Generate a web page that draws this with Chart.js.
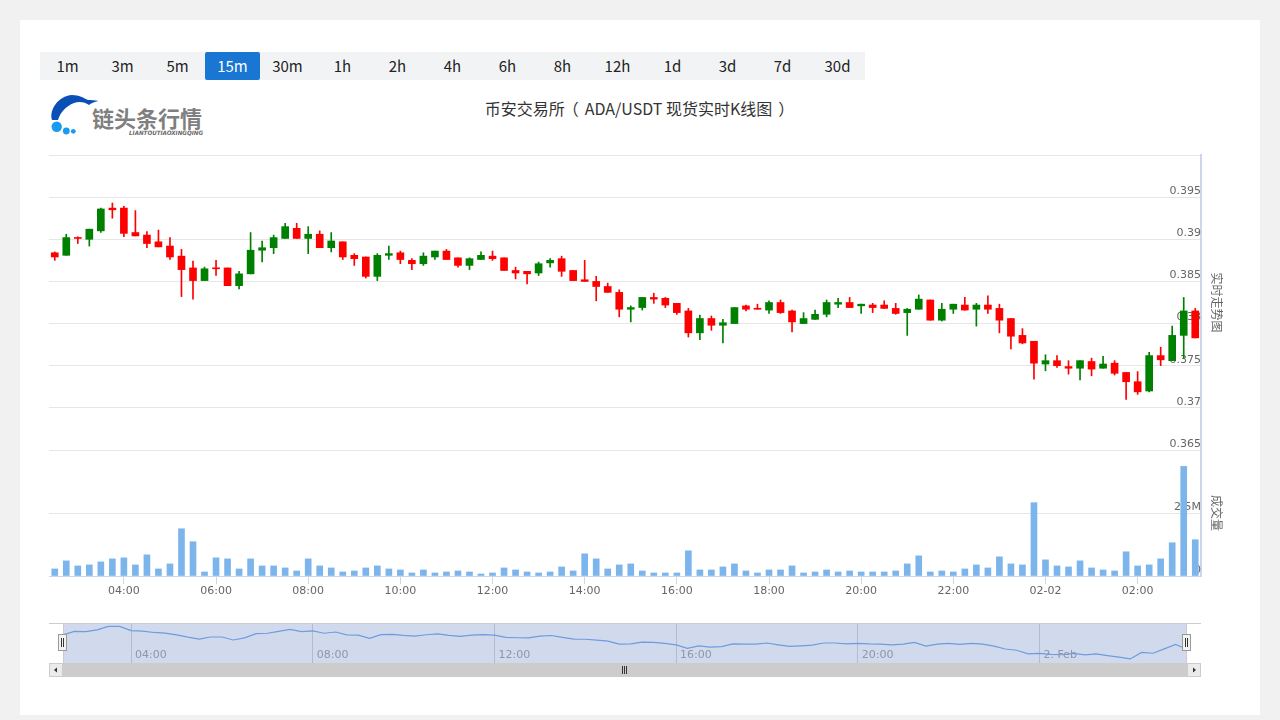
<!DOCTYPE html>
<html>
<head>
<meta charset="utf-8">
<script src="https://cdn.jsdelivr.net/npm/chart.js@4.4.0/dist/chart.umd.min.js"></script>
<style>
html,body{margin:0;padding:0;}
body{width:1280px;height:720px;background:#f1f1f1;position:relative;overflow:hidden;font-family:"Noto Sans CJK SC","Noto Sans",sans-serif;}
#card{position:absolute;left:20px;top:20px;width:1240px;height:695px;background:#fff;}
#periods{position:absolute;left:40px;top:52px;width:825px;height:28px;background:#f2f3f5;display:flex;}
#periods div{width:55px;height:28px;line-height:28px;text-align:center;font-size:15px;color:#222;}
#periods div.active{background:#1976d2;color:#fff;border-radius:2px;}
#title{position:absolute;left:0;width:1277px;top:95px;text-align:center;font-size:16px;color:#333;line-height:26px;}
#title .po{margin-left:-2px;margin-right:6px;}
#title .pcl{margin-left:6px;margin-right:-2px;}
#logo{position:absolute;left:48px;top:92px;}
#mainWrap{position:absolute;left:40px;top:145px;width:1200px;height:460px;}
#navWrap{position:absolute;left:49px;top:623px;width:1152px;height:40px;}
.sb{position:absolute;}
</style>
</head>
<body>
<div id="card"></div>
<div id="periods"></div>
<svg id="logo" width="160" height="48" viewBox="0 0 160 48">
  <path d="M 4 28 C 1 18, 10 4, 24 3 C 31 3, 36 6, 40 8 C 43 8, 47 8, 50.5 9 C 46 10, 43 11, 41 13 C 37 10, 31 9, 26 11 C 18 14, 12 21, 10 28 Z" fill="#0a4fb5"/>
  <circle cx="8.7" cy="34.7" r="5.2" fill="#1a9bf0"/>
  <circle cx="18.3" cy="39" r="3.4" fill="#1a9bf0"/>
  <circle cx="25.3" cy="39.3" r="2.4" fill="#1a9bf0"/>
  <text x="44" y="35" font-size="22" font-weight="bold" fill="#7f7f7f" font-family="Noto Sans CJK SC">链头条行情</text>
  <text x="81" y="42.5" font-size="6" font-weight="bold" font-style="italic" fill="#6a6a6a" font-family="DejaVu Sans" textLength="74" lengthAdjust="spacingAndGlyphs">LIANTOUTIAOXINGQING</text>
</svg>
<div id="title">币安交易所<span class="po">（</span>ADA/USDT 现货实时K线图<span class="pcl">）</span></div>
<div id="mainWrap"><canvas id="main"></canvas></div>
<div id="navWrap"><canvas id="nav"></canvas></div>

<!-- handles -->
<svg class="sb" style="left:58px;top:634px" width="10" height="18" viewBox="0 0 10 18">
  <rect x="0.5" y="0.5" width="8" height="16" fill="#f2f2f2" stroke="#999"/>
  <line x1="3.5" y1="4" x2="3.5" y2="13" stroke="#333"/>
  <line x1="5.5" y1="4" x2="5.5" y2="13" stroke="#333"/>
</svg>
<svg class="sb" style="left:1182px;top:634px" width="10" height="18" viewBox="0 0 10 18">
  <rect x="0.5" y="0.5" width="8" height="16" fill="#f2f2f2" stroke="#999"/>
  <line x1="3.5" y1="4" x2="3.5" y2="13" stroke="#333"/>
  <line x1="5.5" y1="4" x2="5.5" y2="13" stroke="#333"/>
</svg>
<!-- scrollbar -->
<div class="sb" style="left:49px;top:663px;width:1152px;height:14px;background:#f2f2f2;"></div>
<div class="sb" style="left:63px;top:663px;width:1124px;height:14px;background:#cccccc;"></div>
<svg class="sb" style="left:49px;top:663px" width="14" height="14" viewBox="0 0 14 14">
  <rect x="0.5" y="0.5" width="13" height="13" fill="#ebebeb" stroke="#cccccc"/>
  <path d="M 8 4.5 L 5 7 L 8 9.5 Z" fill="#333"/>
</svg>
<svg class="sb" style="left:1187px;top:663px" width="14" height="14" viewBox="0 0 14 14">
  <rect x="0.5" y="0.5" width="13" height="13" fill="#ebebeb" stroke="#cccccc"/>
  <path d="M 6 4.5 L 9 7 L 6 9.5 Z" fill="#333"/>
</svg>
<svg class="sb" style="left:620px;top:666px" width="10" height="8" viewBox="0 0 10 8">
  <line x1="2.5" y1="0" x2="2.5" y2="8" stroke="#333"/>
  <line x1="4.5" y1="0" x2="4.5" y2="8" stroke="#333"/>
  <line x1="6.5" y1="0" x2="6.5" y2="8" stroke="#333"/>
</svg>

<script>
// ---------- data ----------
const periods = ['1m','3m','5m','15m','30m','1h','2h','4h','6h','8h','12h','1d','3d','7d','30d'];
const activePeriod = '15m';

const opens = [.3884,.3881,.3902,.3900,.3910,.3937,.3937,.3908,.3905,.3897,
 .3892,.3880,.3866,.3851,.3866,.3866,.3845,.3859,.3887,.3890,
 .3901,.3913,.3901,.3906,.3890,.3897,.3881,.3879,.3856,.3881,
 .3884,.3875,.3871,.3879,.3886,.3878,.3869,.3876,.3880,.3878,
 .3863,.3862,.3860,.3872,.3877,.3863,.3852,.3850,.3844,.3837,
 .3817,.3819,.3831,.3830,.3824,.3815,.3789,.3806,.3798,.3800,
 .3821,.3818,.3816,.3825,.3815,.3800,.3805,.3811,.3823,.3825,
 .3821,.3822,.3822,.3818,.3813,.3817,.3828,.3804,.3817,.3822,
 .3817,.3822,.3818,.3806,.3786,.3779,.3752,.3756,.3749,.3747,
 .3755,.3747,.3753,.3742,.3731,.3720,.3762,.3756,.3786,.3815];

const highs = [.3885,.3906,.3903,.3912,.3937,.3943,.3939,.3934,.3909,.3911,
 .3902,.3888,.3874,.3867,.3875,.3866,.3862,.3908,.3898,.3905,
 .3919,.3919,.3915,.3910,.3908,.3897,.3883,.3879,.3883,.3892,
 .3886,.3877,.3884,.3886,.3888,.3878,.3878,.3885,.3886,.3878,
 .3867,.3862,.3873,.3877,.3880,.3863,.3875,.3856,.3848,.3840,
 .3821,.3831,.3836,.3831,.3824,.3818,.3810,.3809,.3805,.3819,
 .3822,.3823,.3827,.3828,.3816,.3813,.3816,.3828,.3830,.3831,
 .3823,.3824,.3827,.3824,.3818,.3834,.3828,.3824,.3823,.3831,
 .3824,.3833,.3823,.3806,.3794,.3779,.3763,.3762,.3756,.3756,
 .3759,.3761,.3756,.3742,.3743,.3766,.3772,.3797,.3831,.3818];

const lows = [.3875,.3881,.3895,.3892,.3908,.3925,.3903,.3904,.3890,.3891,
 .3876,.3832,.3829,.3851,.3857,.3845,.3841,.3859,.3873,.3883,
 .3901,.3901,.3883,.3890,.3885,.3876,.3869,.3854,.3851,.3876,
 .3871,.3864,.3869,.3876,.3876,.3867,.3864,.3876,.3875,.3863,
 .3853,.3847,.3857,.3867,.3856,.3851,.3850,.3827,.3837,.3808,
 .3802,.3816,.3824,.3819,.3811,.3784,.3781,.3792,.3777,.3800,
 .3815,.3817,.3812,.3812,.3790,.3800,.3805,.3808,.3819,.3819,
 .3812,.3813,.3818,.3811,.3786,.3817,.3804,.3803,.3812,.3816,
 .3797,.3812,.3789,.3770,.3776,.3734,.3744,.3748,.3740,.3733,
 .3738,.3747,.3739,.3710,.3716,.3719,.3750,.3756,.3759,.3783];

const closes = [.3879,.3902,.3901,.3912,.3936,.3935,.3907,.3904,.3895,.3891,
 .3879,.3864,.3851,.3865,.3865,.3845,.3859,.3887,.3890,.3902,
 .3915,.3901,.3906,.3890,.3898,.3879,.3877,.3856,.3881,.3883,
 .3876,.3871,.3880,.3886,.3876,.3869,.3877,.3881,.3877,.3863,
 .3860,.3859,.3871,.3875,.3862,.3851,.3850,.3844,.3837,.3817,
 .3819,.3831,.3829,.3822,.3813,.3789,.3806,.3798,.3801,.3819,
 .3817,.3817,.3825,.3813,.3802,.3806,.3811,.3825,.3825,.3819,
 .3823,.3819,.3818,.3812,.3817,.3829,.3804,.3817,.3823,.3816,
 .3822,.3817,.3804,.3785,.3777,.3753,.3756,.3750,.3747,.3756,
 .3746,.3752,.3741,.3731,.3719,.3762,.3757,.3786,.3815,.3783];

// volume in millions
const volumes = [.28,.60,.40,.44,.56,.68,.72,.44,.84,.28,
 .48,1.875,1.36,.16,.72,.68,.28,.68,.40,.40,
 .32,.20,.68,.40,.32,.16,.20,.32,.40,.28,
 .24,.12,.24,.12,.16,.20,.16,.08,.12,.32,
 .24,.16,.12,.16,.36,.20,.88,.68,.28,.44,
 .48,.20,.12,.12,.12,1.0,.24,.24,.36,.48,
 .20,.12,.24,.24,.40,.12,.16,.24,.16,.20,
 .16,.16,.16,.20,.48,.80,.16,.20,.16,.28,
 .44,.32,.76,.48,.44,2.91,.64,.40,.36,.60,
 .32,.24,.20,.96,.40,.44,.68,1.32,4.35,1.44];

const priceTicks = [0.365,0.37,0.375,0.38,0.385,0.39,0.395,0.4];
const volumeTicks = [0,2.5,5];
const priceTitle = '实时走势图';
const volumeTitle = '成交量';
const navTitleDay = '2. Feb';

// 15-minute categories, 02-01 02:30 ... 02-02 03:15
const categories = [];
(function(){
  const pad = n => (n < 10 ? '0' : '') + n;
  let day = 1, mins = 2*60 + 30;
  for (let i = 0; i < opens.length; i++) {
    categories.push('02-' + pad(day) + ' ' + pad(Math.floor(mins/60)) + ':' + pad(mins % 60));
    mins += 15;
    if (mins >= 1440) { mins -= 1440; day++; }
  }
})();

// ---------- header ----------
const pEl = document.getElementById('periods');
periods.forEach(p => {
  const d = document.createElement('div');
  d.textContent = p;
  if (p === activePeriod) d.className = 'active';
  pEl.appendChild(d);
});

// ---------- main chart ----------
const UP = '#008000', DOWN = '#ff0000';
const colors = opens.map((o, i) => closes[i] >= o ? UP : DOWN);
const tickFont = {family: 'DejaVu Sans', size: 11};

const splitCat = c => c.split(' ');
const fmtPrice = v => Math.abs(v - 0.4) < 1e-9 ? '' : String(parseFloat(v.toFixed(3)));

new Chart(document.getElementById('main'), {
  type: 'bar',
  data: {
    labels: categories,
    datasets: [
      {label: 'body', data: opens.map((o, i) => [o, closes[i]]), backgroundColor: colors,
       barThickness: 7, grouped: false, yAxisID: 'y', minBarLength: 1, order: 0},
      {label: 'wick', data: lows.map((l, i) => [l, highs[i]]), backgroundColor: colors,
       barThickness: 1, grouped: false, yAxisID: 'y', order: 1},
      {label: 'volume', data: volumes, backgroundColor: '#7cb5ec',
       barThickness: 6, grouped: false, yAxisID: 'yv', order: 2}
    ]
  },
  options: {
    responsive: true, maintainAspectRatio: false, animation: false,
    layout: {padding: {left: 9, top: 10, right: 9, bottom: 0}},
    plugins: {legend: {display: false}, tooltip: {enabled: false}},
    scales: {
      x: {
        type: 'category', offset: true,
        grid: {offset: false, drawOnChartArea: false, drawTicks: true, tickLength: 8, color: '#ccd6eb'},
        border: {color: '#ccd6eb'},
        ticks: {autoSkip: false, maxRotation: 0, padding: 1, color: '#666', font: tickFont,
          callback: function(v) { const [d, t] = splitCat(categories[v]); return t === '00:00' ? d : t; }},
        afterBuildTicks: s => {
          s.ticks = s.ticks.filter(t => {
            const [d, tm] = splitCat(categories[t.value]);
            return tm.endsWith(':00') && parseInt(tm, 10) % 2 === 0;
          });
        },
        afterFit: s => { s.height = 29; }
      },
      y: {
        type: 'linear', position: 'right', stack: 'k', stackWeight: 295,
        min: 0.365, max: 0.4,
        afterBuildTicks: s => { s.ticks = priceTicks.map(v => ({value: v})); },
        grid: {color: '#e6e6e6', drawTicks: false},
        border: {display: true, color: '#ccd6eb', width: 2},
        ticks: {mirror: true, padding: 0, labelOffset: -6, color: '#666', font: tickFont, callback: v => fmtPrice(v)},
        title: {display: true, text: priceTitle, color: '#666', font: {family: 'Noto Sans CJK SC', size: 12}, padding: {top: 7, bottom: 0}},
        afterFit: s => { s.width = 30; }
      },
      yv: {
        type: 'linear', position: 'right', stack: 'k', stackWeight: 126,
        min: 0, max: 5,
        afterBuildTicks: s => { s.ticks = volumeTicks.map(v => ({value: v})); },
        grid: {color: '#e6e6e6', drawTicks: false},
        border: {display: true, color: '#ccd6eb', width: 2},
        ticks: {mirror: true, padding: 0, labelOffset: -6, color: '#666', font: tickFont,
          callback: v => v === 0 ? '0' : (v === 5 ? '' : v + 'M')},
        title: {display: true, text: volumeTitle, color: '#666', font: {family: 'Noto Sans CJK SC', size: 12}, padding: {top: 7, bottom: 0}},
        afterFit: s => { s.width = 30; }
      }
    }
  }
});

// ---------- navigator ----------
const navPlugin = {
  id: 'navDecor',
  beforeDraw(chart) {
    const {ctx, chartArea: a} = chart;
    ctx.save();
    ctx.fillStyle = 'rgba(102,133,194,0.3)';
    ctx.fillRect(a.left, a.top, a.right - a.left, a.bottom - a.top);
    ctx.restore();
  },
  afterDraw(chart) {
    const {ctx, chartArea: a} = chart;
    const sx = chart.scales.x;
    ctx.save();
    ctx.font = '11px "DejaVu Sans"';
    ctx.fillStyle = '#8e96a8';
    ctx.textBaseline = 'middle';
    ctx.textAlign = 'left';
    sx.ticks.forEach(t => {
      const [d, tm] = splitCat(categories[t.value]);
      const lab = tm === '00:00' ? navTitleDay : tm;
      ctx.fillText(lab, sx.getPixelForValue(t.value) + 4, a.bottom - 8);
    });
    ctx.strokeStyle = '#cccccc';
    ctx.lineWidth = 1;
    ctx.beginPath();
    ctx.moveTo(0, 0.5); ctx.lineTo(chart.width, 0.5);
    ctx.moveTo(a.left + 0.5, 0); ctx.lineTo(a.left + 0.5, a.bottom);
    ctx.moveTo(a.right - 0.5, 0); ctx.lineTo(a.right - 0.5, a.bottom);
    ctx.stroke();
    ctx.restore();
  }
};

new Chart(document.getElementById('nav'), {
  type: 'line',
  data: {
    datasets: [{data: closes.map((c, i) => ({x: i, y: c})), borderColor: '#6f9be0', borderWidth: 1.2,
      pointRadius: 0, fill: false, tension: 0}]
  },
  options: {
    responsive: true, maintainAspectRatio: false, animation: false,
    layout: {padding: {left: 14, right: 14, top: 0, bottom: 0}},
    plugins: {legend: {display: false}, tooltip: {enabled: false}},
    scales: {
      x: {
        type: 'linear', min: 0, max: closes.length - 1,
        afterBuildTicks: s => {
          const out = [];
          categories.forEach((c, i) => {
            const [d, tm] = splitCat(c);
            if (tm.endsWith(':00') && parseInt(tm, 10) % 4 === 0) out.push({value: i});
          });
          s.ticks = out;
        },
        grid: {drawOnChartArea: true, drawTicks: false, color: 'rgba(140,150,170,0.45)'},
        border: {display: false},
        ticks: {display: false},
        afterFit: s => { s.height = 0; }
      },
      y: {display: false, min: 0.3692, max: 0.3958}
    }
  },
  plugins: [navPlugin]
});
</script>
</body>
</html>
